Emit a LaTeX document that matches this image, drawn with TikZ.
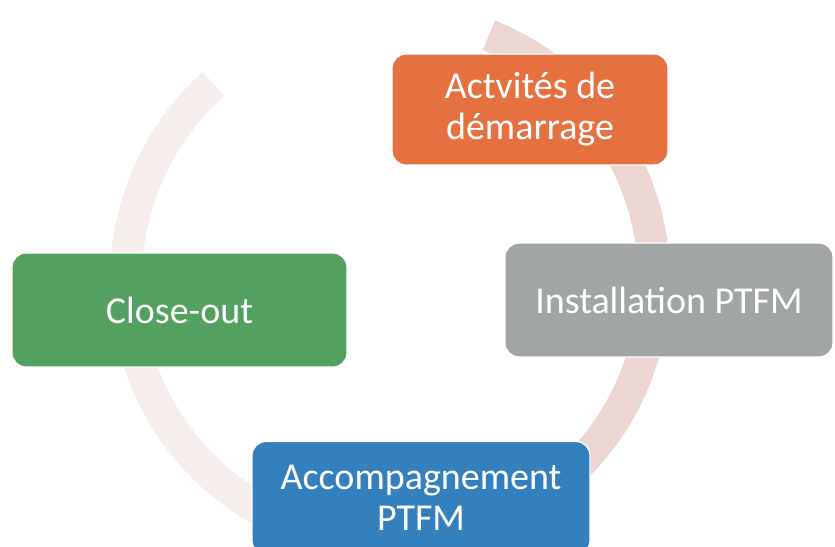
\documentclass[tikz,border=0pt]{standalone}
\usepackage{fontspec}
\setmainfont{Carlito}
\definecolor{cOrange}{RGB}{229,113,64}
\definecolor{cGrey}{RGB}{162,165,165}
\definecolor{cGreen}{RGB}{84,160,96}
\definecolor{cBlue}{RGB}{52,128,189}
\definecolor{ringA}{RGB}{236,214,209}
\definecolor{ringB}{RGB}{246,238,236}
\begin{document}
\begin{tikzpicture}[x=1pt,y=-1pt,
  stagebox/.style={rounded corners=14pt, draw=white, line width=1.2pt,
    text=white, align=center, inner sep=0pt,
    font=\fontsize{38}{41}\selectfont},
  ringseg/.style={line width=32pt}]
\useasboundingbox (0,0) rectangle (835,546);
\fill[white] (0,0) rectangle (835,546);
\coordinate (c) at (390,280);
% background ring (y axis points down: angles are mirrored)
\draw[ringseg, ringA] ([shift={(-68:264)}]c) arc[start angle=-68, end angle=82, radius=264];
\draw[ringseg, ringB] ([shift={(82:264)}]c) arc[start angle=82, end angle=228, radius=264];
% stages
\node[stagebox, fill=cOrange, minimum width=276pt, minimum height=111pt] (start) at (530,109.5) {Actvités de\\démarrage};
\node[stagebox, fill=cGrey, minimum width=328pt, minimum height=114pt] (install) at (669,300) {Installation PTFM};
\node[stagebox, fill=cBlue, minimum width=338pt, minimum height=113pt] (accomp) at (421,498) {Accompagnement\\PTFM};
\node[stagebox, fill=cGreen, minimum width=335pt, minimum height=114pt] (close) at (179.5,310) {Close-out};
\end{tikzpicture}
\end{document}
